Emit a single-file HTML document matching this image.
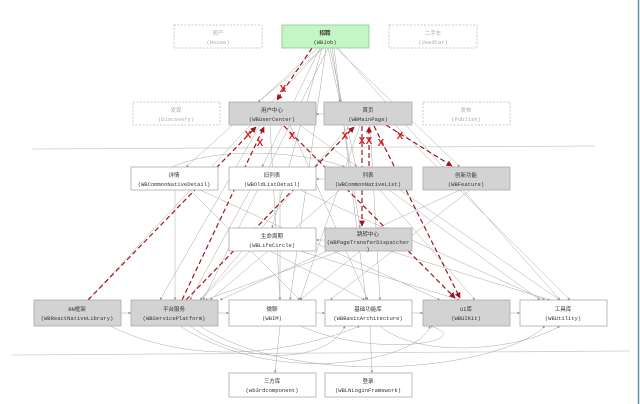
<!DOCTYPE html>
<html><head><meta charset="utf-8"><style>
html,body{margin:0;padding:0;background:#fff;}
svg{display:block}
text{font-family:"Liberation Mono","Noto Sans CJK SC",monospace;font-size:5.5px;text-anchor:middle;fill:#333}
.d text{fill:#aaa}
</style></head><body>
<svg width="640" height="404" viewBox="0 0 640 404" xmlns="http://www.w3.org/2000/svg">
<defs>
<marker id="a" markerWidth="6" markerHeight="6" refX="5" refY="3" orient="auto"><path d="M0,0.5L5,3L0,5.5z" fill="#888"/></marker>
<marker id="r" markerWidth="5" markerHeight="5" refX="4.5" refY="2.5" orient="auto"><path d="M0,0L5,2.5L0,5z" fill="#a0141e"/></marker>
</defs>
<rect width="640" height="404" fill="#fff"/>
<line x1="638.5" y1="0" x2="638.5" y2="404" stroke="#5a8fb0" stroke-width="1.5"/>
<line x1="32" y1="149" x2="595" y2="146" stroke="#ccc" stroke-width="0.8"/>
<line x1="12" y1="355" x2="630" y2="351" stroke="#ccc" stroke-width="0.8"/>
<g stroke="#a8a8a8" stroke-width="0.5" fill="none" marker-end="url(#a)">
<path d="M318,48L186,167"/><path d="M320,48L262,167"/><path d="M322,48L272,228"/>
<path d="M324,48L258,102"/><path d="M326,48L290,300"/><path d="M328,48L340,102"/>
<path d="M330,48L356,167"/><path d="M332,48L360,228"/><path d="M334,48L366,300"/>
<path d="M336,48L460,167"/><path d="M338,48L560,300"/><path d="M328,48L203,300"/><path d="M322,48L88,300"/>
<path d="M260,125L160,300"/><path d="M270,125L280,300"/><path d="M290,125L368,300"/><path d="M300,125L540,300"/>
<path d="M350,125L200,300"/><path d="M360,125L300,300"/><path d="M370,125L380,300"/><path d="M395,125L570,300"/>
<path d="M175,190L175,300"/><path d="M190,190L300,300"/><path d="M200,190L440,300"/>
<path d="M250,190L190,300"/><path d="M280,190L280,300"/><path d="M300,190L545,300"/>
<path d="M340,190L210,300"/><path d="M380,190L475,300"/><path d="M400,190L560,300"/>
<path d="M460,190L220,300"/><path d="M470,190L330,300"/>
<path d="M250,251L200,300"/><path d="M270,251L365,300"/><path d="M300,251L460,300"/>
<path d="M340,251L205,300"/><path d="M360,251L300,300"/><path d="M390,251L550,300"/>
<path d="M325,240L316,240"/><path d="M325,179L316,179"/><path d="M324,114L316,114"/>
<path d="M121,313L131,313"/><path d="M218,313L229,313"/><path d="M316,313L325,313"/><path d="M412,313L423,313"/><path d="M510,313L520,313"/>
<path d="M280,326L275,373"/><path d="M370,326L372,373"/>
<path d="M110,326C200,370 300,350 360,326"/><path d="M190,326C250,370 330,360 345,326"/>
<path d="M180,326C280,390 420,360 430,326"/><path d="M200,326C300,390 500,370 545,326"/>
<path d="M380,326C420,360 520,350 560,326"/><path d="M300,326C380,360 480,340 430,326"/>
<path d="M140,190C180,140 300,150 345,167"/>
</g>
<g stroke="#a0141e" stroke-width="1.2" stroke-dasharray="5,3" fill="none">
<path d="M312,48L277,100" marker-end="url(#r)"/>
<path d="M88,300L256,127" marker-end="url(#r)"/>
<path d="M182,300L264,127" marker-end="url(#r)"/>
<path d="M284,126L455,298" marker-end="url(#r)"/>
<path d="M186,300L354,127" marker-end="url(#r)"/>
<path d="M362,126L362,226" marker-end="url(#r)"/>
<path d="M369,166L369,127" marker-end="url(#r)"/>
<path d="M374,126L460,298" marker-end="url(#r)"/>
<path d="M386,125L452,166" marker-end="url(#r)"/>
</g>
<g>
<text x="283" y="92" style="fill:#e02020;font-size:10px;font-weight:bold;font-family:'Liberation Sans',sans-serif">X</text>
<text x="248" y="138" style="fill:#e02020;font-size:10px;font-weight:bold;font-family:'Liberation Sans',sans-serif">X</text>
<text x="260" y="146" style="fill:#e02020;font-size:10px;font-weight:bold;font-family:'Liberation Sans',sans-serif">X</text>
<text x="292" y="139" style="fill:#e02020;font-size:10px;font-weight:bold;font-family:'Liberation Sans',sans-serif">X</text>
<text x="345" y="139" style="fill:#e02020;font-size:10px;font-weight:bold;font-family:'Liberation Sans',sans-serif">X</text>
<text x="362" y="144" style="fill:#e02020;font-size:10px;font-weight:bold;font-family:'Liberation Sans',sans-serif">X</text>
<text x="369" y="144" style="fill:#e02020;font-size:10px;font-weight:bold;font-family:'Liberation Sans',sans-serif">X</text>
<text x="381" y="146" style="fill:#e02020;font-size:10px;font-weight:bold;font-family:'Liberation Sans',sans-serif">X</text>
<text x="400" y="139" style="fill:#e02020;font-size:10px;font-weight:bold;font-family:'Liberation Sans',sans-serif">X</text>
</g>
<g class="d" fill="#fff" stroke="#bbb" stroke-width="0.8" stroke-dasharray="2,1.5">
<rect x="174" y="25" width="88" height="23"/><rect x="389" y="25" width="88" height="23"/>
<rect x="133" y="102" width="87" height="23"/><rect x="423" y="102" width="87" height="23"/>
</g>
<g class="d">
<text x="218" y="35">房产</text><text x="218" y="44">(House)</text>
<text x="433" y="35">二手车</text><text x="433" y="44">(UsedCar)</text>
<text x="176" y="112">发现</text><text x="176" y="121">(Discovery)</text>
<text x="466" y="112">发布</text><text x="466" y="121">(Publish)</text>
</g>
<rect x="282" y="25" width="87" height="23" fill="#c4f5c4" stroke="#8c8" stroke-width="0.8"/>
<text x="325" y="35" font-weight="bold">招聘</text><text x="325" y="44">(WBJob)</text>
<g stroke="#aaa" stroke-width="0.8">
<rect x="229" y="102" width="87" height="23" fill="#d3d3d3"/><rect x="324" y="102" width="88" height="23" fill="#d3d3d3"/>
<rect x="131" y="167" width="87" height="23" fill="#fff"/><rect x="229" y="167" width="87" height="23" fill="#fff"/>
<rect x="325" y="167" width="87" height="23" fill="#d3d3d3"/><rect x="423" y="167" width="87" height="23" fill="#d3d3d3"/>
<rect x="229" y="228" width="87" height="23" fill="#fff"/><rect x="325" y="228" width="87" height="23" fill="#d3d3d3"/>
<rect x="34" y="300" width="87" height="26" fill="#d3d3d3"/><rect x="131" y="300" width="87" height="26" fill="#d3d3d3"/>
<rect x="229" y="300" width="87" height="26" fill="#fff"/><rect x="325" y="300" width="87" height="26" fill="#fff"/>
<rect x="423" y="300" width="87" height="26" fill="#d3d3d3"/><rect x="520" y="300" width="87" height="26" fill="#fff"/>
<rect x="229" y="373" width="87" height="24" fill="#fff"/><rect x="325" y="373" width="87" height="24" fill="#fff"/>
</g>
<text x="272" y="112">用户中心</text><text x="272" y="121">(WBUserCenter)</text>
<text x="368" y="112">首页</text><text x="368" y="121">(WBMainPage)</text>
<text x="174" y="177">详情</text><text x="174" y="186">(WBCommonNativeDetail)</text>
<text x="272" y="177">旧列表</text><text x="272" y="186">(WBOldListDetail)</text>
<text x="368" y="177">列表</text><text x="368" y="186">(WBCommonNativeList)</text>
<text x="466" y="177">创新功能</text><text x="466" y="186">(WBFeature)</text>
<text x="272" y="238">生命周期</text><text x="272" y="247">(WBLifeCircle)</text>
<text x="368" y="236">跳转中心</text><text x="368" y="244">(WBPageTransferDispatcher</text><text x="368" y="251">)</text>
<text x="77" y="311">RN框架</text><text x="77" y="320">(WBReactNativeLibrary)</text>
<text x="174" y="311">平台服务</text><text x="174" y="320">(WBServicePlatform)</text>
<text x="272" y="311">微聊</text><text x="272" y="320">(WBIM)</text>
<text x="368" y="311">基础功能库</text><text x="368" y="320">(WBBasicArchitecture)</text>
<text x="466" y="311">UI库</text><text x="466" y="320">(WBUIKit)</text>
<text x="563" y="311">工具库</text><text x="563" y="320">(WBUtility)</text>
<text x="272" y="383">三方库</text><text x="272" y="392">(wb3rdcomponent)</text>
<text x="368" y="383">登录</text><text x="368" y="392">(WBLNLoginFramework)</text>
</svg>
</body></html>
